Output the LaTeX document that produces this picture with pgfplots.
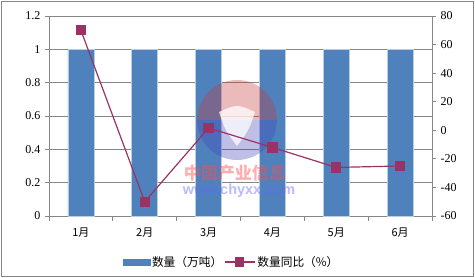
\documentclass[border=0pt]{standalone}
\usepackage{fontspec}
\setmainfont{Liberation Serif}
\newfontfamily\cjk{Noto Sans CJK SC}
\newfontfamily\wm{Liberation Sans}
\usepackage{pgfplots}
\pgfplotsset{compat=1.18}
\definecolor{barblue}{HTML}{4F81BD}
\definecolor{baredge}{HTML}{B9CDE5}
\definecolor{linepurple}{HTML}{993366}
\definecolor{axisgray}{HTML}{868686}
\begin{document}
\begin{tikzpicture}
\useasboundingbox (-49pt,-62pt) rectangle (426pt,216pt);
\draw[axisgray, line width=0.8pt] (-48pt,-60pt) rectangle (424pt,215pt);
\begin{axis}[
  scale only axis, width=383pt, height=200pt,
  at={(0pt,0pt)}, anchor=south west,
  xmin=-0.5, xmax=5.5, ymin=0, ymax=1.2,
  ytick={0,0.2,0.4,0.6,0.8,1,1.2},
  axis x line*=bottom, axis y line*=left,
  axis line style={-, draw=axisgray, line width=0.8pt},
  ymajorgrids, grid style={axisgray, line width=0.7pt},
  xtick={0,1,2,3,4,5},
  xticklabels={1月,2月,3月,4月,5月,6月},
  xticklabel style={font=\cjk\fontsize{11}{12}\selectfont, yshift=-4pt},
  major x tick style={draw=none},
  minor xtick={-0.5,0.5,1.5,2.5,3.5,4.5,5.5},
  minor tick style={draw=axisgray, line width=0.8pt},
  minor tick length=5pt, major tick length=4pt,
  tick align=outside,
  ytick style={draw=axisgray, line width=0.8pt},
  yticklabel style={font=\fontsize{12}{13}\selectfont, xshift=-1pt},
  /pgf/number format/assume math mode=true,
  clip=false,
]
\addplot[ybar, bar width=26pt, fill=barblue, draw=baredge, line width=0.6pt]
  coordinates {(0,1) (1,1) (2,1) (3,1) (4,1) (5,1)};
\end{axis}
% watermark (over the bars, semi-transparent)
\begin{scope}
  \clip (188pt,96pt) circle (40pt);
  \fill[red!55!gray, opacity=0.35] (148pt,96pt) rectangle (228pt,136pt);
  \fill[blue!45!gray, opacity=0.35] (148pt,56pt) rectangle (228pt,96pt);
  \fill[white, opacity=0.75] (170pt,104pt) .. controls (188pt,112pt) .. (206pt,104pt)
        .. controls (200pt,86pt) .. (188pt,70pt) .. controls (176pt,86pt) .. (170pt,104pt);
\end{scope}
\node[text=red!70!white, opacity=0.45, font=\cjk\bfseries\fontsize{17}{18}\selectfont] at (186pt,43pt) {中国产业信息};
\node[text=blue!60!white, opacity=0.45, font=\wm\bfseries\fontsize{14.5}{16}\selectfont] at (190pt,25pt) {www.chyxx.com};
\begin{axis}[
  scale only axis, width=383pt, height=200pt,
  at={(0pt,0pt)}, anchor=south west,
  xmin=-0.5, xmax=5.5, ymin=-60, ymax=80,
  ytick={-60,-40,-20,0,20,40,60,80},
  axis y line*=right, axis x line=none,
  axis line style={-, draw=axisgray, line width=0.8pt},
  tick align=outside, major tick length=4pt,
  ytick style={draw=axisgray, line width=0.8pt},
  yticklabel style={font=\fontsize{12}{13}\selectfont, xshift=1pt},
  /pgf/number format/assume math mode=true,
  clip=false,
  legend style={at={(0.4765,0)}, anchor=center, yshift=-46pt, draw=none, fill=none,
    font=\cjk\fontsize{11.7}{12}\selectfont, inner sep=0pt},
  legend columns=2,
  legend cell align=left,
]
\addlegendimage{legend image code/.code={\fill[barblue] (0pt,-3pt) rectangle (27pt,3pt);}}
\addlegendentry{数量（万吨）\hspace{24pt}}
\addplot[linepurple, line width=1.2pt, mark=square*, mark size=4.6pt,
  mark options={fill=linepurple, draw=linepurple},
  legend image code/.code={\draw[linepurple, line width=1.2pt] (0pt,0pt) -- (30pt,0pt);
    \fill[linepurple] (11pt,-4pt) rectangle (19pt,4pt);}]
  coordinates {(0,70) (1,-50) (2,1.6) (3,-12) (4,-26) (5,-25)};
\addlegendentry{数量同比（\%）}
\end{axis}
\end{tikzpicture}
\end{document}
